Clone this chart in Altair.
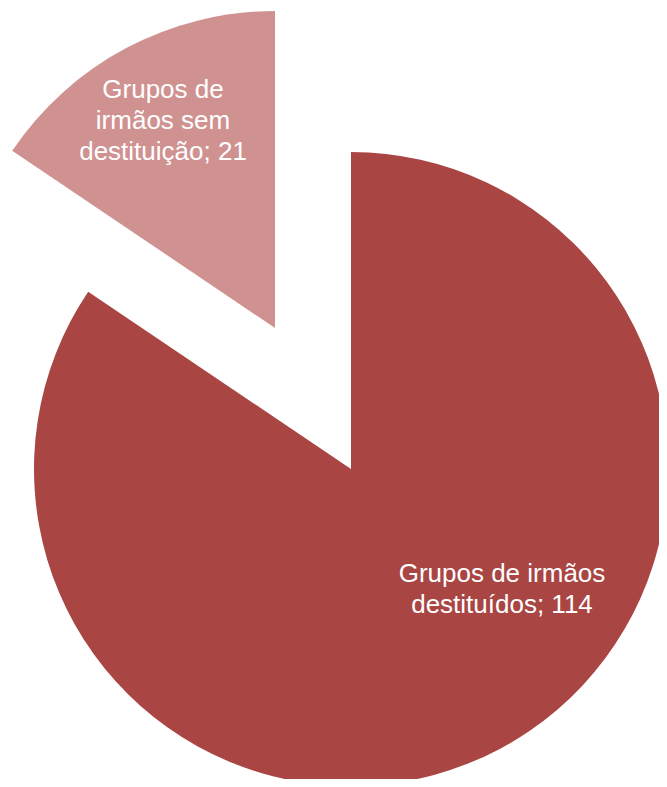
import altair as alt
import pandas as pd
import math

categories = ["Grupos de irmãos destituídos", "Grupos de irmãos sem destituição"]
values = [114, 21]
order = [0, 1]
colors = ["#A94543", "#D09291"]

df = pd.DataFrame({"categoria": categories, "valor": values, "ordem": order})
total = sum(values)

base = alt.Chart(df).transform_window(
    fim="sum(valor)", sort=[alt.SortField("ordem")], frame=[None, 0]
).transform_calculate(inicio="datum.fim - datum.valor")

theta_scale = alt.Scale(domain=[0, total], range=[0, 2 * math.pi])
color = alt.Color("categoria:N", scale=alt.Scale(domain=categories, range=colors), legend=None)

cx, cy, R = 343, 461, 317

big = base.transform_filter(alt.datum.ordem == 0).mark_arc(outerRadius=R).encode(
    theta=alt.Theta("inicio:Q", scale=theta_scale),
    theta2="fim:Q",
    color=color,
    x=alt.value(cx),
    y=alt.value(cy),
)

small = base.transform_filter(alt.datum.ordem == 1).mark_arc(
    outerRadius=R, xOffset=-76, yOffset=-141
).encode(
    theta=alt.Theta("inicio:Q", scale=theta_scale),
    theta2="fim:Q",
    color=color,
    x=alt.value(cx),
    y=alt.value(cy),
)

label_big = alt.Chart(df).transform_filter(alt.datum.ordem == 0).transform_calculate(
    rotulo="['Grupos de irmãos', 'destituídos; ' + datum.valor]"
).mark_text(
    font="Liberation Sans, Arial, sans-serif", fontSize=26, color="white", lineHeight=31,
    align="center", baseline="alphabetic", x=494, y=574
).encode(text="rotulo:N")

label_small = alt.Chart(df).transform_filter(alt.datum.ordem == 1).transform_calculate(
    rotulo="['Grupos de', 'irmãos sem', 'destituição; ' + datum.valor]"
).mark_text(
    font="Liberation Sans, Arial, sans-serif", fontSize=26, color="white", lineHeight=31,
    align="center", baseline="alphabetic", x=155, y=90
).encode(text="rotulo:N")

chart = alt.layer(big, small, label_big, label_small).properties(
    width=651, height=771, autosize=alt.AutoSizeParams(type="none"), padding=0
).configure_view(stroke=None)

chart.save("out.html", embed_options={"renderer": "svg", "actions": False})
